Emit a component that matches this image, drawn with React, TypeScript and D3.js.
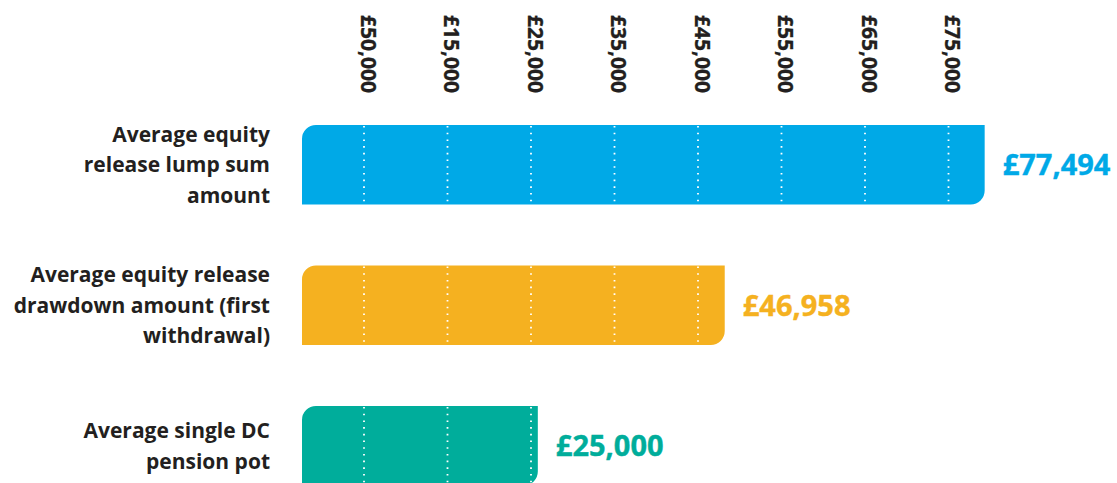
import React from "react";
import * as d3 from "d3";

const categories = [
  ["Average equity", "release lump sum", "amount"],
  ["Average equity release", "drawdown amount (first", "withdrawal)"],
  ["Average single DC", "pension pot"],
];
const values = [77494, 46958, 25000];
const valueLabels = ["£77,494", "£46,958", "£25,000"];
const colors = ["#00a9e7", "#f5b120", "#00ad9b"];
const tickLabels = ["£50,000", "£15,000", "£25,000", "£35,000", "£45,000", "£55,000", "£65,000", "£75,000"];

const W = 1117;
const H = 483;
const FONT = "'Open Sans', sans-serif";

function barPath(x0: number, x1: number, y0: number, h: number, r: number) {
  const p = d3.path();
  p.moveTo(x0, y0 + r);
  p.arcTo(x0, y0, x0 + r, y0, r);
  p.lineTo(x1, y0);
  p.lineTo(x1, y0 + h - r);
  p.arcTo(x1, y0 + h, x1 - r, y0 + h, r);
  p.lineTo(x0, y0 + h);
  p.closePath();
  return p.toString();
}

export default function App() {
  const ids = categories.map((_, i) => String(i));
  const y = d3.scaleBand<string>().domain(ids).range([125, 485.5]).paddingInner(0.434).paddingOuter(0);
  const x = d3.scaleLinear().domain([0, 80000]).range([325, 1006]);
  const tx = d3.scalePoint<string>().domain(tickLabels).range([364, 948.5]);
  const barStart = 302;
  const lineH = 30.5;

  return (
    <svg width={W} height={H} style={{ position: "fixed", left: 0, top: 0, display: "block", background: "#fff" }}>
      {tickLabels.map((t) => (
        <text
          key={t}
          transform={`translate(${(tx(t) as number) + 4.5},15) rotate(90)`}
          dy="0.36em"
          fontFamily={FONT}
          fontWeight={700}
          fontSize={21}
          fill="#231f20"
          stroke="#231f20"
          strokeWidth={0.3}
        >
          {t}
        </text>
      ))}
      {values.map((v, i) => {
        const y0 = y(ids[i]) as number;
        const h = y.bandwidth();
        const x1 = x(v);
        const cy = y0 + h / 2;
        const lines = categories[i];
        return (
          <g key={i}>
            <path d={barPath(barStart, x1, y0, h, 14)} fill={colors[i]} />
            {tickLabels
              .filter((t) => (tx(t) as number) < x1 - 1)
              .map((t) => (
                <line
                  key={t}
                  x1={tx(t)}
                  x2={tx(t)}
                  y1={y0 + 1}
                  y2={y0 + h}
                  stroke="#fff"
                  strokeWidth={1.8}
                  strokeDasharray="1.6 5.1"
                />
              ))}
            <text
              x={x1 + 18}
              y={cy}
              dy="0.36em"
              fontFamily={FONT}
              fontWeight={700}
              fontSize={29}
              fill={colors[i]}
              stroke={colors[i]}
              strokeWidth={0.4}
            >
              {valueLabels[i]}
            </text>
            {lines.map((l, j) => (
              <text
                key={j}
                x={270}
                y={cy + (j - (lines.length - 1) / 2) * lineH}
                dy="0.36em"
                textAnchor="end"
                fontFamily={FONT}
                fontWeight={700}
                fontSize={21}
                fill="#231f20"
              >
                {l}
              </text>
            ))}
          </g>
        );
      })}
    </svg>
  );
}
